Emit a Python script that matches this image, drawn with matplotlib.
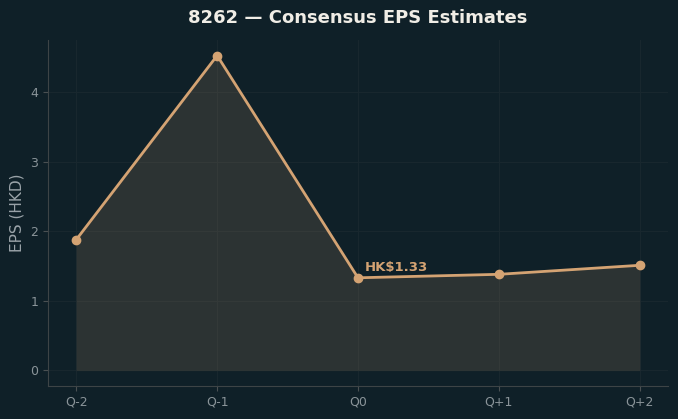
import matplotlib.pyplot as plt
import numpy as np

quarters = ['Q-2', 'Q-1', 'Q0', 'Q+1', 'Q+2']
eps = [1.88, 4.53, 1.33, 1.38, 1.51]
current = 2

bg = '#0f2028'
accent = '#d4a373'

fig, ax = plt.subplots(figsize=(6.78, 4.19), dpi=100)
fig.patch.set_facecolor(bg)
ax.set_facecolor(bg)

x = np.arange(len(quarters))
ax.fill_between(x, eps, 0, color=accent, alpha=0.15, edgecolor='#3a3f38', linewidth=1)
ax.plot(x, eps, color=accent, linewidth=2, marker='o', markersize=6, zorder=3)
ax.annotate(f"HK${eps[current]:.2f}", (x[current], eps[current]), xytext=(5, 5),
            textcoords='offset points', color=accent, fontsize=9.5, fontweight='bold')

ax.set_xticks(x)
ax.set_xticklabels(quarters)
ax.set_yticks([0, 1, 2, 3, 4])
ax.tick_params(colors='#8a9499', labelsize=9)
ax.tick_params(axis='both', color='#4a5052')
ax.set_ylabel('EPS (HKD)', color='#9aa3a8', fontsize=11)
ax.set_title('8262 — Consensus EPS Estimates', color='#f0ede6', fontsize=13,
             fontweight='bold', pad=12)
ax.grid(True, color='#18272e', linewidth=0.8)
ax.set_axisbelow(True)
for s in ['top', 'right']:
    ax.spines[s].set_visible(False)
for s in ['left', 'bottom']:
    ax.spines[s].set_color('#3d4446')

plt.subplots_adjust(left=0.071, right=0.985, top=0.905, bottom=0.079)
plt.savefig('out.png', facecolor=bg)
